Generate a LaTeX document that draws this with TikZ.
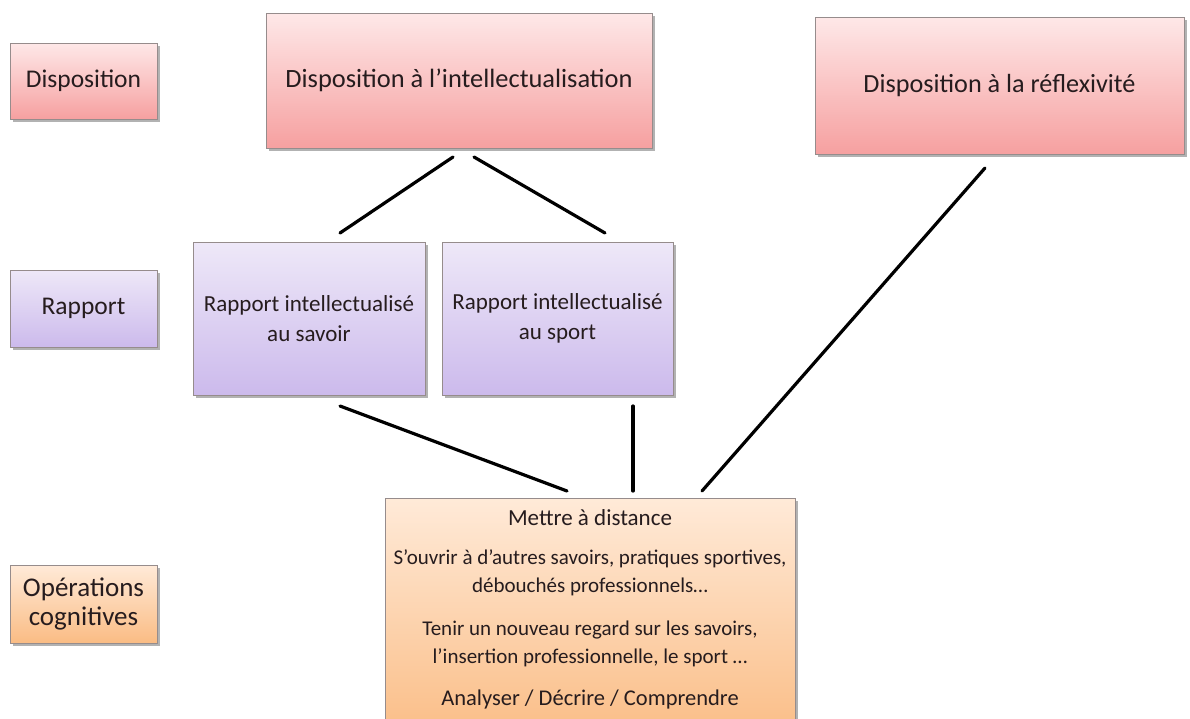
\documentclass[tikz,border=0pt]{standalone}
\usepackage{fontspec}
\setmainfont{Carlito}
\usetikzlibrary{shadows}

\definecolor{pinktop}{RGB}{254,232,232}
\definecolor{pinkbot}{RGB}{246,160,160}
\definecolor{violettop}{RGB}{238,232,248}
\definecolor{violetbot}{RGB}{204,186,236}
\definecolor{orangetop}{RGB}{255,234,216}
\definecolor{orangebot}{RGB}{250,188,132}
\definecolor{boxline}{RGB}{150,140,140}
\definecolor{txt}{RGB}{38,28,30}

\tikzset{
  box/.style={rectangle, draw=boxline, line width=0.8pt, align=center,
    text=txt, font=\fontsize{25.5}{30}\selectfont, inner sep=2pt,
    drop shadow={shadow xshift=2.5pt, shadow yshift=-2.5pt, opacity=0.3, fill=black}},
  dispobox/.style={box, top color=pinktop, bottom color=pinkbot},
  rapbox/.style={box, top color=violettop, bottom color=violetbot},
  opbox/.style={box, top color=orangetop, bottom color=orangebot},
  link/.style={line width=3.2pt, black, line cap=round}
}

\begin{document}
\begin{tikzpicture}[x=1pt, y=-1pt]
\useasboundingbox (0,0) rectangle (1190,718);
\clip (0,0) rectangle (1190,718);
\fill[white] (0,0) rectangle (1190,718);

% level labels on the left
\node[dispobox, minimum width=147pt, minimum height=76pt] (labDisp) at (83.5,81) {Disposition};
\node[rapbox, minimum width=147pt, minimum height=77pt] (labRap) at (83.5,308.5) {Rapport};
\node[opbox, minimum width=147pt, minimum height=78pt, font=\fontsize{27}{29}\selectfont] (labOps) at (83.5,604) {Opérations\\cognitives};

% dispositions
\node[dispobox, minimum width=386pt, minimum height=135pt, font=\fontsize{26.4}{30}\selectfont] (intel) at (459,80.5) {Disposition à l’intellectualisation};
\node[dispobox, minimum width=369pt, minimum height=137pt, font=\fontsize{26.2}{30}\selectfont] (reflex) at (999.5,85.5) {Disposition à la réflexivité};

% rapports
\node[rapbox, minimum width=232pt, minimum height=153pt, font=\fontsize{23}{30}\selectfont] (rapSavoir) at (309,318.5) {Rapport intellectualisé\\au savoir};
\node[rapbox, minimum width=231pt, minimum height=153pt, font=\fontsize{23}{30}\selectfont] (rapSport) at (557.5,318.5) {Rapport intellectualisé\\au sport};

% cognitive operations
\node[opbox, anchor=north, inner sep=0pt] (ops) at (590,498)
  {\parbox[c][244pt][t]{410pt}{\centering\fontsize{21}{28}\selectfont
    \vspace{11pt}{\fontsize{23}{28}\selectfont Mettre à distance\par}\vspace{11pt}
    S’ouvrir à d’autres savoirs, pratiques sportives,\par débouchés professionnels…\par\vspace{15pt}
    Tenir un nouveau regard sur les savoirs,\par l’insertion professionnelle, le sport …\par\vspace{14pt}
    {\fontsize{22.5}{28}\selectfont Analyser / Décrire / Comprendre\par}}};

% connector end points
\coordinate (intelL) at (453,157);
\coordinate (intelR) at (474,157);
\coordinate (savoirT) at (340,233);
\coordinate (sportT) at (605,233);
\coordinate (savoirB) at (340,406);
\coordinate (sportB) at (633,406);
\coordinate (reflexB) at (985,168);
\coordinate (opsA) at (567,491);
\coordinate (opsB) at (633,491);
\coordinate (opsC) at (702,491);

\draw[link] (intelL) -- (savoirT);
\draw[link] (intelR) -- (sportT);
\draw[link] (savoirB) -- (opsA);
\draw[link] (sportB) -- (opsB);
\draw[link] (reflexB) -- (opsC);
\end{tikzpicture}
\end{document}
